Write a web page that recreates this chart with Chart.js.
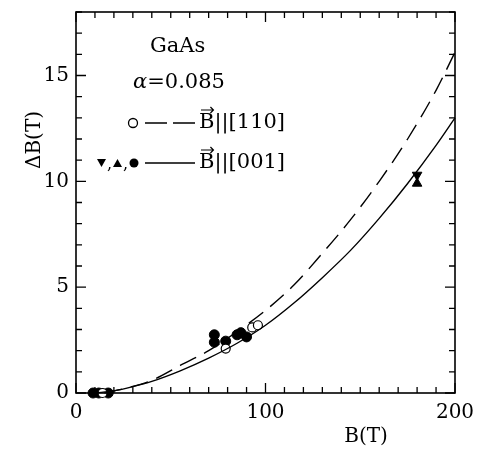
<!DOCTYPE html>
<html>
<head>
<meta charset="utf-8">
<script src="https://cdn.jsdelivr.net/npm/chart.js@4.4.1/dist/chart.umd.min.js"></script>
<style>
  html, body { margin: 0; padding: 0; background: #fff; }
  #wrap { width: 480px; height: 449px; position: relative; }
</style>
</head>
<body>
<div id="wrap"><canvas id="chart-area"></canvas></div>
<script>
// curves (B in T, deltaB in T)
var dashB  = [15, 25, 40, 55, 70, 85, 100, 115, 130, 145, 160, 175, 190, 200];
var dashDB = [0, 0.2, 0.6, 1.3, 2.0, 2.9, 3.9, 5.1, 6.6, 8.2, 10.0, 12.0, 14.3, 16.1];
var solidB  = [10, 20, 30, 40, 55, 70, 85, 100, 115, 130, 145, 160, 175, 190, 200];
var solidDB = [0, 0.1, 0.3, 0.55, 1.05, 1.65, 2.35, 3.2, 4.25, 5.45, 6.75, 8.25, 9.9, 11.7, 13.0];

// measured points, B || [110] (open circles)
var openB  = [14, 79, 93, 96];
var openDB = [0, 2.1, 3.1, 3.2];
// measured points, B || [001] (filled circles, triangles)
var fullB  = [9, 12, 17, 73, 73, 79, 85, 87, 90];
var fullDB = [0, 0, 0, 2.4, 2.75, 2.45, 2.75, 2.85, 2.65];
var upB = [180], upDB = [9.9];
var downB = [180], downDB = [10.3];

var xTickLabels = [0, 100, 200];
var yTickLabels = [0, 5, 10, 15];

function pts(xs, ys) {
  var out = [];
  for (var i = 0; i < xs.length; i++) out.push({x: xs[i], y: ys[i]});
  return out;
}

var SERIF = "'DejaVu Serif', serif";

// frame, inward ticks on all four sides, axis titles and the key
var decor = {
  id: 'decor',
  afterDraw: function(chart) {
    var ctx = chart.ctx, a = chart.chartArea;
    var xs = chart.scales.x, ys = chart.scales.y;
    ctx.save();
    ctx.strokeStyle = '#000';
    ctx.lineWidth = 1.6;
    ctx.strokeRect(a.left, a.top, a.right - a.left, a.bottom - a.top);
    ctx.lineWidth = 1.3;
    ctx.beginPath();
    for (var b = 0; b <= 200; b += 10) {
      var px = xs.getPixelForValue(b);
      var len = (b % 100 === 0) ? 10 : 6;
      ctx.moveTo(px, a.bottom); ctx.lineTo(px, a.bottom - len);
      ctx.moveTo(px, a.top); ctx.lineTo(px, a.top + len);
    }
    for (var v = 0; v <= 18; v += 1) {
      var py = ys.getPixelForValue(v);
      var l2 = (v % 5 === 0) ? 10 : 6;
      ctx.moveTo(a.left, py); ctx.lineTo(a.left + l2, py);
      ctx.moveTo(a.right, py); ctx.lineTo(a.right - l2, py);
    }
    ctx.stroke();

    ctx.fillStyle = '#000';
    ctx.textBaseline = 'middle';
    // axis titles
    ctx.font = '20px ' + SERIF;
    ctx.textAlign = 'center';
    ctx.fillText('B(T)', 366, 437);
    ctx.save();
    ctx.translate(35, 140);
    ctx.rotate(-Math.PI / 2);
    ctx.fillText('\u0394B(T)', 0, 0);
    ctx.restore();

    // key text
    ctx.font = '21px ' + SERIF;
    ctx.textAlign = 'left';
    ctx.fillText('GaAs', 150, 47);
    ctx.font = 'italic 21px ' + SERIF;
    ctx.fillText('\u03b1', 133, 83);
    var aw = ctx.measureText('\u03b1').width;
    ctx.font = '21px ' + SERIF;
    ctx.fillText('=0.085', 133 + aw, 83);

    function vecB(x, y, rest) {
      ctx.fillText('B', x, y);
      var w = ctx.measureText('B').width;
      ctx.beginPath();
      ctx.lineWidth = 1.2;
      ctx.moveTo(x + 2, y - 13); ctx.lineTo(x + w - 1, y - 13);
      ctx.moveTo(x + w - 4, y - 16); ctx.lineTo(x + w - 1, y - 13); ctx.lineTo(x + w - 4, y - 10);
      ctx.stroke();
      ctx.fillText(rest, x + w, y);
    }
    vecB(199, 123, '||[110]');
    vecB(199, 163, '||[001]');

    // key symbols
    ctx.lineWidth = 1.3;
    ctx.beginPath();
    ctx.arc(133, 123, 4.5, 0, Math.PI * 2);
    ctx.stroke();
    ctx.beginPath();
    ctx.moveTo(145, 123); ctx.lineTo(167, 123);
    ctx.moveTo(173, 123); ctx.lineTo(195, 123);
    ctx.moveTo(145, 163); ctx.lineTo(195, 163);
    ctx.stroke();
    // down triangle, up triangle, dot
    ctx.beginPath();
    ctx.moveTo(97, 159); ctx.lineTo(106, 159); ctx.lineTo(101.5, 167); ctx.closePath();
    ctx.fill();
    ctx.font = '16px ' + SERIF;
    ctx.fillText(',', 107, 165);
    ctx.beginPath();
    ctx.moveTo(113, 167); ctx.lineTo(122, 167); ctx.lineTo(117.5, 159); ctx.closePath();
    ctx.fill();
    ctx.fillText(',', 123, 165);
    ctx.beginPath();
    ctx.arc(134, 163, 4.5, 0, Math.PI * 2);
    ctx.fill();
    ctx.restore();
  }
};

var config = {
  type: 'scatter',
  data: {
    datasets: [
      { data: pts(dashB, dashDB), showLine: true, borderColor: '#000', borderWidth: 1.4,
        borderDash: [18, 9], pointRadius: 0, cubicInterpolationMode: 'monotone', fill: false },
      { data: pts(solidB, solidDB), showLine: true, borderColor: '#000', borderWidth: 1.4,
        pointRadius: 0, cubicInterpolationMode: 'monotone', fill: false },
      { data: pts(openB, openDB), pointStyle: 'circle', pointRadius: 4.5,
        pointBorderColor: '#000', pointBackgroundColor: '#fff', pointBorderWidth: 1.2 },
      { data: pts(fullB, fullDB), pointStyle: 'circle', pointRadius: 5,
        pointBorderColor: '#000', pointBackgroundColor: '#000', pointBorderWidth: 1 },
      { data: pts(upB, upDB), pointStyle: 'triangle', pointRadius: 5.5,
        pointBorderColor: '#000', pointBackgroundColor: '#000' },
      { data: pts(downB, downDB), pointStyle: 'triangle', rotation: 180, pointRadius: 5.5,
        pointBorderColor: '#000', pointBackgroundColor: '#000' }
    ]
  },
  options: {
    responsive: true,
    maintainAspectRatio: false,
    animation: false,
    clip: false,
    layout: { padding: { left: 0, right: 25, top: 12, bottom: 0 } },
    plugins: { legend: { display: false }, tooltip: { enabled: false } },
    scales: {
      x: {
        type: 'linear', min: 0, max: 200,
        afterBuildTicks: function(s) { s.ticks = xTickLabels.map(function(v) { return {value: v}; }); },
        afterFit: function(s) { s.height = 56; s.paddingLeft = 0; s.paddingRight = 0; },
        grid: { display: false, drawTicks: false },
        border: { display: false },
        ticks: { padding: 8, color: '#000', font: { family: 'DejaVu Serif', size: 20 }, maxRotation: 0 }
      },
      y: {
        type: 'linear', min: 0, max: 18,
        afterBuildTicks: function(s) { s.ticks = yTickLabels.map(function(v) { return {value: v}; }); },
        afterFit: function(s) { s.width = 76; s.paddingTop = 0; s.paddingBottom = 0; },
        grid: { display: false, drawTicks: false },
        border: { display: false },
        ticks: { padding: 7, color: '#000', font: { family: 'DejaVu Serif', size: 20 } }
      }
    }
  },
  plugins: [decor]
};

var ctx = document.getElementById('chart-area').getContext('2d');
window.myChart = new Chart(ctx, config);
</script>
</body>
</html>
